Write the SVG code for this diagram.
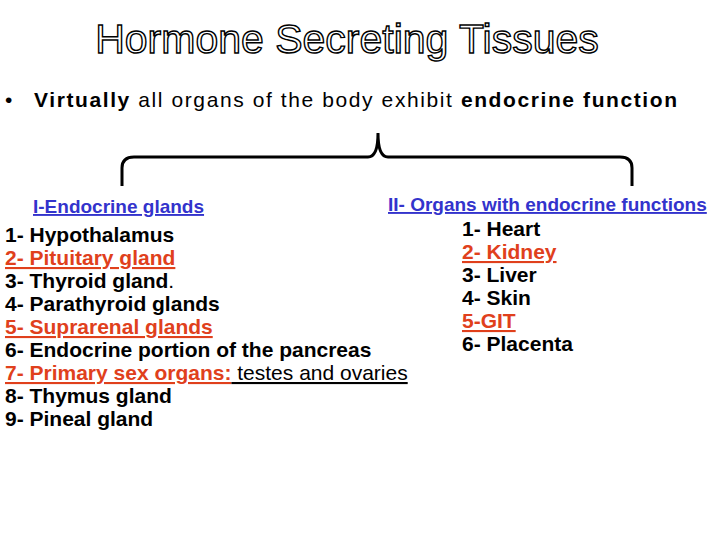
<svg xmlns="http://www.w3.org/2000/svg" width="720" height="540" viewBox="0 0 720 540">
<style>
text{font-family:"Liberation Sans","Noto Sans CJK JP",sans-serif;font-size:21px;font-weight:bold;fill:#000}
.r{fill:#e0401c;text-decoration:underline}
.b{fill:#3333cc;text-decoration:underline;font-size:19px}
.n{font-weight:normal}
.t{font-size:41px;font-weight:normal;fill:#fff;stroke:#000;stroke-width:1.4}
</style>
<rect width="720" height="540" fill="#fff"/>
<text class="t" x="347" y="53" text-anchor="middle">Hormone Secreting Tissues</text>
<g id="intro"><text x="5" y="107" class="n">•</text><text x="34" y="107" textLength="643" lengthAdjust="spacing">Virtually <tspan class="n">all organs of the body exhibit </tspan>endocrine function</text></g>
<g id="connectors"><path d="M122,186 V168 Q122,157 134,157 H368 Q378,157 378,133 Q378,157 388,157 H620 Q632,157 632,168 V186" fill="none" stroke="#000" stroke-width="3"/></g>
<g id="left">
<text class="b" x="33" y="213">I-Endocrine glands</text>
<text x="5" y="242">1- Hypothalamus</text>
<text x="5" y="265" class="r">2- Pituitary gland</text>
<text x="5" y="288">3- Thyroid gland<tspan class="n">.</tspan></text>
<text x="5" y="311">4- Parathyroid glands</text>
<text x="5" y="334" class="r">5- Suprarenal glands</text>
<text x="5" y="357">6- Endocrine portion of the pancreas</text>
<text x="5" y="380"><tspan class="r">7- Primary sex organs:</tspan><tspan class="n" text-decoration="underline"> testes and ovaries</tspan></text>
<text x="5" y="403">8- Thymus gland</text>
<text x="5" y="426">9- Pineal gland</text>
</g>
<g id="right">
<text class="b" x="388" y="211">II- Organs with endocrine functions</text>
<text x="462" y="236">1- Heart</text>
<text x="462" y="259" class="r">2- Kidney</text>
<text x="462" y="282">3- Liver</text>
<text x="462" y="305">4- Skin</text>
<text x="462" y="328" class="r">5-GIT</text>
<text x="462" y="351">6- Placenta</text>
</g>
</svg>
